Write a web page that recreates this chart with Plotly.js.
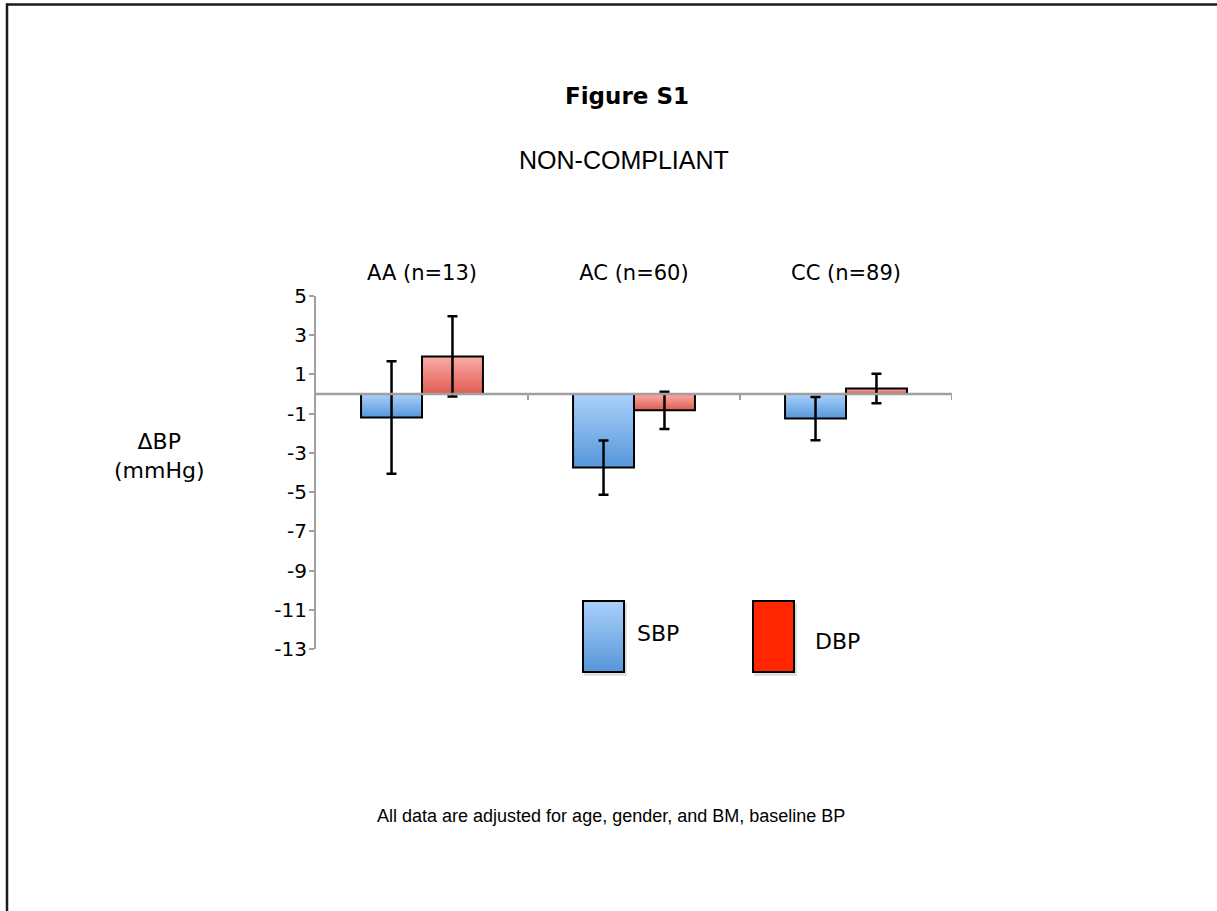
<!DOCTYPE html>
<html>
<head>
<meta charset="utf-8">
<script src="https://cdn.plot.ly/plotly-3.0.1.min.js"></script>
<style>
  html, body { margin: 0; padding: 0; background: #ffffff; }
  #chart { width: 1217px; height: 911px; }
</style>
</head>
<body>
<div id="chart"></div>
<script>
// ---- data ----
const categories = ['AA (n=13)', 'AC (n=60)', 'CC (n=89)'];
const sbpValues = [-1.2, -3.75, -1.25];
const sbpErrors = [2.87, 1.38, 1.1];
const dbpValues = [1.92, -0.83, 0.28];
const dbpErrors = [2.05, 0.95, 0.75];
const yTickValues = [5, 3, 1, -1, -3, -5, -7, -9, -11, -13];
const seriesNames = ['SBP', 'DBP'];

// ---- layout geometry (pixels) ----
const W = 1217, H = 911;
const M = { l: 316, r: 265, t: 296, b: 262 };
const PW = W - M.l - M.r, PH = H - M.t - M.b;
const px = x => (x - M.l) / PW;
const py = y => (H - M.b - y) / PH;

const FONT = 'DejaVu Sans, Verdana, sans-serif';
const SANS = 'Liberation Sans, Arial, sans-serif';

const errStyle = { type: 'data', visible: true, color: '#000000', thickness: 2.5, width: 5 };

const data = [
  {
    type: 'bar', name: seriesNames[0], x: categories, y: sbpValues,
    marker: { color: '#7eb2ec', line: { color: '#000000', width: 2 } },
    error_y: Object.assign({ array: sbpErrors }, errStyle)
  },
  {
    type: 'bar', name: seriesNames[1], x: categories, y: dbpValues,
    marker: { color: '#ee8a82', line: { color: '#000000', width: 2 } },
    error_y: Object.assign({ array: dbpErrors }, errStyle)
  }
];

// category boundary ticks hanging from the zero line
const boundaryTicks = [0.5, 1.5, 2.5].map(xv => ({
  type: 'line', xref: 'x', yref: 'y', layer: 'above',
  x0: xv, x1: xv, ysizemode: 'pixel', yanchor: 0, y0: 0, y1: -6,
  line: { color: '#a0a0a0', width: 2 }
}));

const shapes = [
  // zero line above the bars
  { type: 'line', xref: 'paper', yref: 'y', layer: 'above', x0: 0, x1: 1, y0: 0, y1: 0,
    line: { color: '#a0a0a0', width: 2.5 } },
  ...boundaryTicks,
  // page frame (top and left edges)
  { type: 'line', xref: 'paper', yref: 'paper', x0: px(6), x1: px(1230), y0: py(4.5), y1: py(4.5),
    line: { color: '#1a1a1a', width: 2.5 } },
  { type: 'line', xref: 'paper', yref: 'paper', x0: px(7), x1: px(7), y0: py(3.5), y1: py(925),
    line: { color: '#1a1a1a', width: 2.5 } },
  // legend swatch shadows
  { type: 'rect', xref: 'paper', yref: 'paper', x0: px(584), x1: px(627), y0: py(603), y1: py(676),
    fillcolor: 'rgba(0,0,0,0.12)', line: { width: 0 } },
  { type: 'rect', xref: 'paper', yref: 'paper', x0: px(754), x1: px(797), y0: py(603), y1: py(676),
    fillcolor: 'rgba(0,0,0,0.12)', line: { width: 0 } },
  // legend swatches
  { type: 'rect', xref: 'paper', yref: 'paper', x0: px(583), x1: px(624), y0: py(601), y1: py(672),
    fillcolor: '#7eb2ec', line: { color: '#000000', width: 2 } },
  { type: 'rect', xref: 'paper', yref: 'paper', x0: px(753), x1: px(794), y0: py(601), y1: py(672),
    fillcolor: '#ff2600', line: { color: '#000000', width: 2 } }
];

const annotations = [
  { text: '<b>Figure S1</b>', xref: 'paper', yref: 'paper', x: px(627), y: py(96),
    showarrow: false, xanchor: 'center', yanchor: 'middle', font: { family: FONT, size: 23, color: '#000' } },
  { text: 'NON-COMPLIANT', xref: 'paper', yref: 'paper', x: px(624), y: py(160),
    showarrow: false, xanchor: 'center', yanchor: 'middle', font: { family: SANS, size: 25, color: '#000' } },
  { text: '\u0394BP<br>(mmHg)', xref: 'paper', yref: 'paper', x: px(159), y: py(456),
    showarrow: false, xanchor: 'center', yanchor: 'middle', font: { family: FONT, size: 22, color: '#000' } },
  { text: seriesNames[0], xref: 'paper', yref: 'paper', x: px(658), y: py(633),
    showarrow: false, xanchor: 'center', yanchor: 'middle', font: { family: FONT, size: 22, color: '#000' } },
  { text: seriesNames[1], xref: 'paper', yref: 'paper', x: px(837), y: py(641),
    showarrow: false, xanchor: 'center', yanchor: 'middle', font: { family: FONT, size: 22, color: '#000' } },
  { text: 'All data are adjusted for age, gender, and BM, baseline BP', xref: 'paper', yref: 'paper',
    x: px(611), y: py(816), showarrow: false, xanchor: 'center', yanchor: 'middle',
    font: { family: SANS, size: 18, color: '#000' } }
];

const layout = {
  width: W, height: H,
  margin: M,
  paper_bgcolor: '#ffffff', plot_bgcolor: 'rgba(0,0,0,0)',
  showlegend: false,
  barmode: 'group', bargap: 0.425, bargroupgap: 0,
  xaxis: {
    type: 'category', side: 'top', range: [-0.5, 2.5],
    showline: false, showgrid: false, zeroline: false,
    ticks: '', ticklabelstandoff: 11,
    tickfont: { family: FONT, size: 21, color: '#000' },
    fixedrange: true
  },
  yaxis: {
    range: [-13, 5], tickmode: 'array', tickvals: yTickValues, ticktext: yTickValues.map(String),
    showline: true, linecolor: '#a0a0a0', linewidth: 2,
    ticks: 'outside', ticklen: 5, tickwidth: 2, tickcolor: '#a0a0a0',
    ticklabelstandoff: -2,
    showgrid: false, zeroline: false,
    tickfont: { family: FONT, size: 20, color: '#000' },
    fixedrange: true
  },
  shapes: shapes,
  annotations: annotations
};

function addGradient(defs, id, top, bottom) {
  const ns = 'http://www.w3.org/2000/svg';
  const g = document.createElementNS(ns, 'linearGradient');
  g.setAttribute('id', id);
  g.setAttribute('x1', '0'); g.setAttribute('y1', '0');
  g.setAttribute('x2', '0'); g.setAttribute('y2', '1');
  [[0, top], [1, bottom]].forEach(([o, c]) => {
    const s = document.createElementNS(ns, 'stop');
    s.setAttribute('offset', String(o));
    s.setAttribute('stop-color', c);
    g.appendChild(s);
  });
  defs.appendChild(g);
}

Plotly.newPlot('chart', data, layout, { staticPlot: true, displayModeBar: false }).then(gd => {
  const svg = gd.querySelector('svg.main-svg');
  let defs = svg.querySelector('defs');
  if (!defs) { defs = document.createElementNS('http://www.w3.org/2000/svg', 'defs'); svg.insertBefore(defs, svg.firstChild); }
  addGradient(defs, 'gradSBP', '#abd0fb', '#5597d9');
  addGradient(defs, 'gradDBP', '#faaca7', '#df5c50');
  const traces = gd.querySelectorAll('g.trace.bars');
  if (traces[0]) traces[0].querySelectorAll('g.point path').forEach(p => { p.style.fill = 'url(#gradSBP)'; });
  if (traces[1]) traces[1].querySelectorAll('g.point path').forEach(p => { p.style.fill = 'url(#gradDBP)'; });
  // legend swatch for SBP gets the same gradient
  gd.querySelectorAll('g.shapelayer path').forEach(p => {
    const f = (p.style.fill || '').replace(/\s/g, '');
    if (f === 'rgb(126,178,236)') p.style.fill = 'url(#gradSBP)';
  });
});
</script>
</body>
</html>
